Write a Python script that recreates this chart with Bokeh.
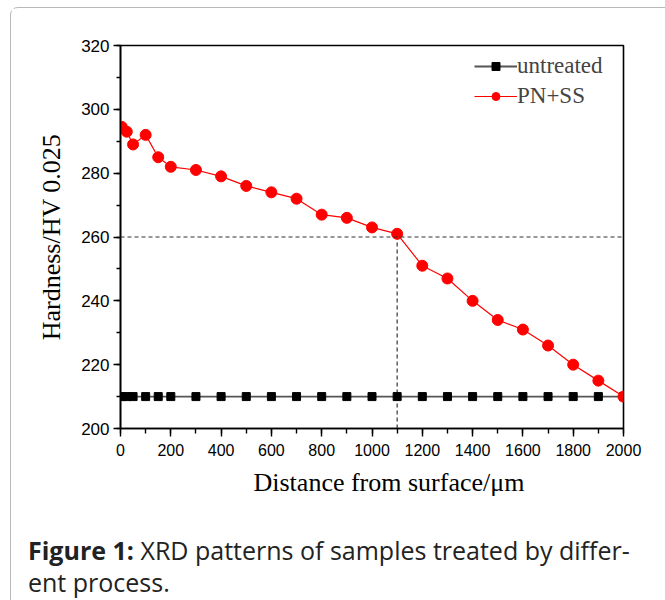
from bokeh.plotting import figure
from bokeh.layouts import column
from bokeh.models import (Range1d, FixedTicker, Legend, LegendItem, Span, Div, Title)
from bokeh.embed import file_html
from bokeh.resources import INLINE

# ---- data ----
distance = [5, 25, 50, 100, 150, 200, 300, 400, 500, 600, 700, 800, 900, 1000,
            1100, 1200, 1300, 1400, 1500, 1600, 1700, 1800, 1900, 2000]
untreated = [210] * len(distance)
pn_ss = [294.5, 293, 289, 292, 285, 282, 281, 279, 276, 274, 272, 267, 266, 263,
         261, 251, 247, 240, 234, 231, 226, 220, 215, 210]
x_ticks = [0, 200, 400, 600, 800, 1000, 1200, 1400, 1600, 1800, 2000]
y_ticks = [200, 220, 240, 260, 280, 300, 320]
ref_x = 1100
ref_y = 260
x_title = "Distance from surface/\u03bcm"
y_title = "Hardness/HV 0.025"
caption_bold = "Figure 1:"
caption_line1 = "XRD patterns of samples treated by differ-"
caption_line2 = "ent process."

SERIF = "Liberation Serif"
SANS = "Liberation Sans"
CAP = "Open Sans"

# container offset (card border at x=10, y=7)
OX, OY = 11, 8
W = 650
H = 510

p = figure(width=W, height=H, output_backend="svg", toolbar_location=None,
           x_range=Range1d(0, 2000), y_range=Range1d(200, 320),
           min_border_left=120 - OX, min_border_right=W - (623 - OX),
           min_border_top=45 - OY, min_border_bottom=H - (428 - OY),
           y_axis_label=y_title)
p.grid.visible = False
p.outline_line_color = "black"
p.outline_line_width = 1.6
p.background_fill_color = "white"
p.border_fill_color = "white"

for ax in (p.xaxis[0], p.yaxis[0]):
    ax.axis_line_width = 1.6
    ax.axis_line_color = "black"
    ax.major_tick_line_color = "black"
    ax.minor_tick_line_color = "black"
    ax.major_tick_line_width = 1.4
    ax.minor_tick_line_width = 1.4
    ax.major_tick_in = 0
    ax.minor_tick_in = 0
    ax.major_label_text_font = SANS
    ax.major_label_text_color = "black"
    ax.axis_label_text_font = SERIF
    ax.axis_label_text_font_style = "normal"
    ax.axis_label_text_color = "black"

p.xaxis[0].ticker = FixedTicker(ticks=x_ticks, minor_ticks=list(range(0, 2001, 100)))
p.yaxis[0].ticker = FixedTicker(ticks=y_ticks, minor_ticks=list(range(200, 321, 10)))
p.xaxis[0].major_tick_out = 8
p.xaxis[0].minor_tick_out = 5
p.yaxis[0].major_tick_out = 7
p.yaxis[0].minor_tick_out = 4
p.xaxis[0].major_label_text_font_size = "16px"
p.yaxis[0].major_label_text_font_size = "17px"
p.xaxis[0].major_label_standoff = 7
p.yaxis[0].major_label_standoff = 4
p.yaxis[0].axis_label_text_font_size = "26px"
p.yaxis[0].axis_label_standoff = 12

# x-axis title, offset to the right as in the reference
p.add_layout(Title(text=x_title, align="left", offset=253 - 120,
                   text_font=SERIF, text_font_size="26px",
                   text_font_style="normal", text_color="black", standoff=15),
             "below")

# reference lines
p.add_layout(Span(location=ref_y, dimension="width", line_color="#333333",
                  line_width=1.2, line_dash="4 3"))
p.segment(x0=[ref_x], y0=[p.y_range.start], x1=[ref_x], y1=[ref_y],
          line_color="#333333", line_width=1.2, line_dash="4 3")

# series
l1 = p.line(distance, untreated, line_color="#555555", line_width=1.8)
m1 = p.scatter(distance, untreated, marker="square", size=8, fill_color="black",
               line_color="black")
l2 = p.line(distance, pn_ss, line_color="red", line_width=1.2)
m2 = p.scatter(distance, pn_ss, marker="circle", size=11, fill_color="red",
               line_color="red")

legend = Legend(items=[LegendItem(label="untreated", renderers=[l1, m1]),
                       LegendItem(label="PN+SS", renderers=[l2, m2])],
                location=(474 - 120, 428 - 45 - 64),
                border_line_alpha=0, background_fill_alpha=0,
                label_text_font=SERIF, label_text_font_size="23px",
                glyph_width=43, glyph_height=20, label_height=20, spacing=4,
                label_standoff=0, padding=0, margin=0)
p.add_layout(legend)

# caption
caption = Div(
    text=(f'<span style="font-weight:bold">{caption_bold}</span> '
          f'{caption_line1}<br>{caption_line2}'),
    width=W, height=600 - OY - H - 2,
    styles={"font-family": CAP, "font-size": "25px", "line-height": "32px",
            "color": "#222222", "white-space": "nowrap",
            "padding-left": f"{23 - OX}px", "padding-top": f"{545 - (OY + H) - 16}px",
            "background-color": "white"})

layout = column(p, caption, spacing=0, margin=(7, 0, 0, 10),
                styles={"border-left": "1px solid #b8b8b8",
                        "border-top": "1px solid #b8b8b8",
                        "border-top-left-radius": "8px",
                        "background-color": "white"})

open("out.html", "w").write(file_html(layout, INLINE))
